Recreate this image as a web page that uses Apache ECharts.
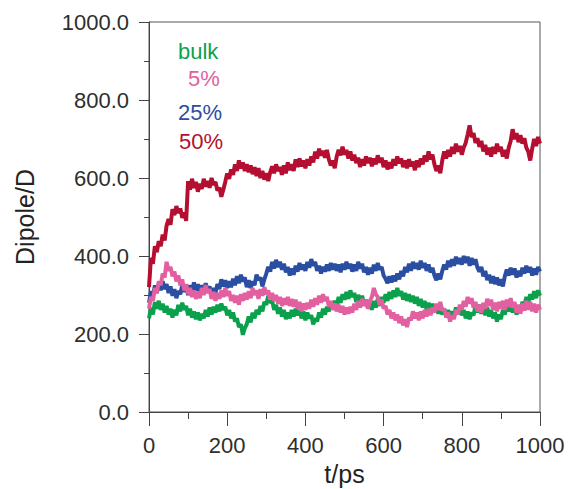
<!DOCTYPE html>
<html>
<head>
<meta charset="utf-8">
<script src="https://cdn.jsdelivr.net/npm/echarts@6/dist/echarts.min.js"></script>
<style>html,body{margin:0;padding:0;background:#fff}#c{width:569px;height:489px}</style>
</head>
<body>
<div id="c"></div>
<script>
// sampling step of the trajectories (ps)
const tStep = 5;
const seriesNames = ['bulk', '5%', '25%', '50%'];
const xTicks = [0, 200, 400, 600, 800, 1000];
const yTicks = [0, 200, 400, 600, 800, 1000];

const bulk = [240,268,250,282,265,285,262,278,255,272,250,265,242,262,248,275,258,280,262,272,
248,265,242,258,238,255,235,252,240,262,245,268,250,270,255,275,258,278,262,270,
248,262,240,255,232,240,218,225,198,215,225,245,230,255,240,262,250,272,258,282,
275,298,280,285,262,275,252,268,245,262,238,255,240,262,245,265,248,262,240,258,
235,255,240,248,225,240,232,255,242,265,250,270,258,280,265,285,272,295,280,302,
288,308,290,312,295,305,282,300,285,298,275,288,265,280,262,285,268,290,272,295,
280,302,285,308,290,312,295,318,298,310,288,305,285,302,282,298,278,295,272,290,
268,285,262,280,258,278,255,275,252,272,250,265,245,262,240,258,245,268,250,270,
248,262,240,258,238,255,248,272,255,275,252,270,248,268,245,262,240,255,232,250,
238,262,250,275,258,278,255,272,250,268,258,282,272,295,280,302,288,310,292,312,298];

const p5 = [265,295,285,318,305,335,325,355,345,385,362,372,348,360,335,350,325,340,312,328,
302,318,295,312,290,308,292,318,300,325,305,315,290,308,285,305,290,312,295,318,
298,310,285,300,280,298,275,302,285,305,288,310,292,318,300,312,290,315,298,320,
302,312,288,305,285,300,278,295,272,292,275,295,272,290,270,288,265,282,258,278,
262,280,265,288,270,292,275,298,280,302,285,295,270,285,262,278,258,275,255,272,
250,268,252,270,255,278,262,285,268,290,272,288,265,285,295,318,302,295,275,288,
265,272,250,262,240,255,235,250,228,245,222,238,218,242,235,258,240,255,235,258,
240,262,245,265,248,268,255,278,262,282,260,265,242,255,232,248,238,262,250,275,
262,285,270,295,278,292,268,282,258,275,255,280,265,290,272,288,262,280,258,282,
265,285,262,288,270,292,268,282,255,275,252,278,260,285,262,282,258,278,255,275,262];

const p25 = [280,310,295,325,305,330,312,335,315,328,305,322,298,315,292,310,302,325,308,322,
300,325,310,332,312,328,305,325,308,330,312,322,300,318,305,328,315,340,322,338,
318,335,320,342,325,348,330,352,335,345,320,338,318,335,325,352,338,345,322,340,
355,372,360,385,368,390,372,385,365,380,358,372,350,368,352,375,360,382,365,378,
362,385,370,392,375,385,362,375,355,372,360,378,362,382,365,380,362,378,358,380,
365,385,368,380,360,378,362,385,368,380,358,372,352,370,355,378,362,382,365,372,
350,342,330,348,332,350,335,355,340,362,348,372,358,380,362,385,368,382,365,388,
370,382,362,378,358,370,350,338,355,340,362,378,365,388,372,392,375,398,380,395,
378,400,382,398,375,395,378,392,370,360,372,348,362,338,352,330,348,328,345,325,
340,322,348,365,350,370,352,368,345,362,348,370,355,375,358,372,350,368,352,372,360];

const p50 = [320,395,380,425,410,438,425,455,440,478,495,480,520,505,528,510,522,498,512,490,
592,570,598,575,590,565,585,572,598,578,592,575,600,582,590,568,575,552,570,590,
612,598,622,608,635,618,645,625,640,618,635,615,632,610,628,605,625,600,618,596,
612,592,615,630,612,635,618,628,608,632,612,640,620,635,618,648,628,650,630,645,
625,648,632,655,640,668,650,675,658,670,652,672,648,632,645,625,655,672,658,680,
660,672,650,668,645,660,638,652,628,648,632,655,638,652,630,650,635,658,640,652,
628,645,622,640,625,648,632,655,638,650,628,645,625,648,630,642,620,645,628,650,
635,658,642,668,648,660,635,618,632,612,645,668,650,672,655,680,662,688,668,682,
660,678,690,712,735,705,715,690,702,680,695,668,685,660,678,655,680,662,688,668,
680,655,672,650,678,695,725,700,715,692,710,688,702,678,668,645,675,700,682,705,688];

const colors = ['#0ba14c', '#e2609f', '#2a4ea2', '#b40f30'];
const allData = [bulk, p5, p25, p50];

function pairs(arr) { return arr.map((v, i) => [i * tStep, v]); }

const series = allData.map((arr, k) => ({
  name: seriesNames[k],
  type: 'line',
  data: pairs(arr),
  showSymbol: false,
  symbol: 'none',
  lineStyle: { color: colors[k], width: 4, join: 'bevel' },
  itemStyle: { color: colors[k] },
  z: 2 + k,
  animation: false
}));
// draw order: bulk, 25%, 5%, 50%
series[1].z = 4; series[2].z = 3;

const legendPos = [[178, 52], [188, 79], [178, 113], [179, 142]];
const graphics = seriesNames.map((n, k) => ({
  type: 'text', left: legendPos[k][0], top: legendPos[k][1] - 12,
  style: { text: n, fill: colors[k], font: '22px "Liberation Sans", Arial, sans-serif' }
}));

const chart = echarts.init(document.getElementById('c'), null, { renderer: 'svg' });
const labelFont = { fontFamily: '"Liberation Sans", Arial, sans-serif', fontSize: 22, color: '#2e2e2e' };
chart.setOption({
  animation: false,
  grid: { left: 149, right: 29, top: 22, bottom: 77, show: true, borderColor: '#555', borderWidth: 1,
          containLabel: false, outerBoundsMode: 'none' },
  xAxis: {
    type: 'value', min: xTicks[0], max: xTicks[xTicks.length - 1], interval: 200,
    name: 't/ps', nameLocation: 'middle', nameGap: 46,
    nameTextStyle: { fontFamily: '"Liberation Sans", Arial, sans-serif', fontSize: 25, color: '#222', lineHeight: 26 },
    axisLine: { lineStyle: { color: '#444', width: 1 } },
    axisTick: { inside: false, length: 14, lineStyle: { color: '#444' } },
    minorTick: { show: true, splitNumber: 2, length: 7, lineStyle: { color: '#444' } },
    splitLine: { show: false },
    axisLabel: Object.assign({ margin: 22, formatter: v => String(v) }, labelFont)
  },
  yAxis: {
    type: 'value', min: yTicks[0], max: yTicks[yTicks.length - 1], interval: 200,
    name: 'Dipole/D', nameLocation: 'middle', nameGap: 112,
    nameTextStyle: { fontFamily: '"Liberation Sans", Arial, sans-serif', fontSize: 25, color: '#222' },
    axisLine: { show: true, lineStyle: { color: '#444', width: 1 } },
    axisTick: { show: true, inside: false, length: 10, lineStyle: { color: '#444' } },
    minorTick: { show: true, splitNumber: 2, length: 5, lineStyle: { color: '#444' } },
    splitLine: { show: false },
    axisLabel: Object.assign({ margin: 20, formatter: v => v.toFixed(1) }, labelFont)
  },
  graphic: graphics,
  series: series
});
</script>
</body>
</html>
